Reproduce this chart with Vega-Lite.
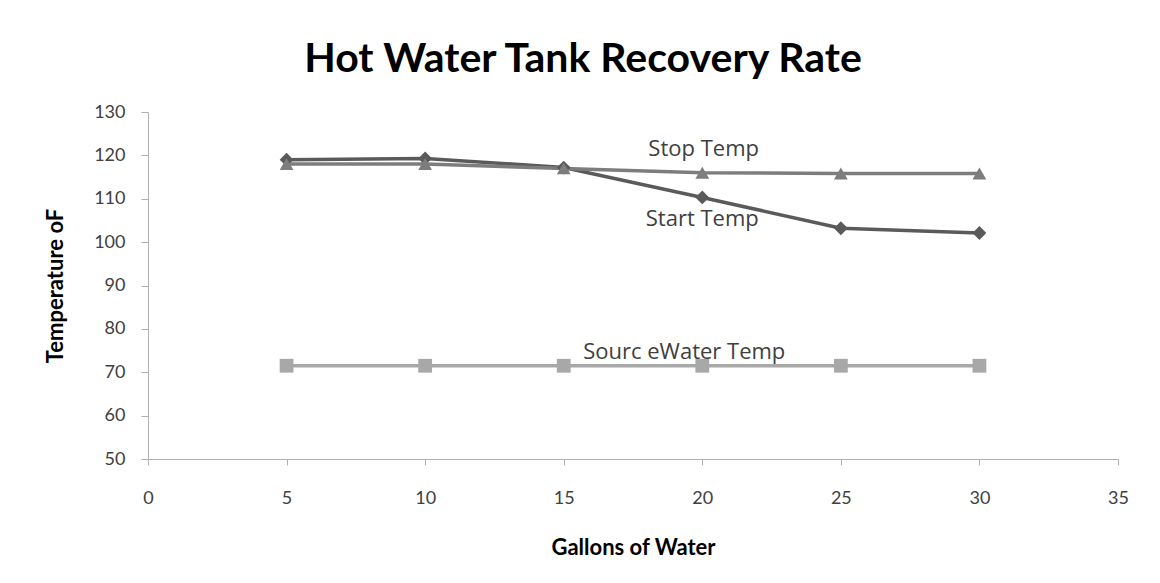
{
  "$schema": "https://vega.github.io/schema/vega-lite/v6.json",
  "width": 970,
  "height": 347,
  "autosize": "none",
  "padding": {"left": 148, "top": 112, "right": 42, "bottom": 124},
  "background": "white",
  "title": {
    "text": "Hot Water Tank Recovery Rate",
    "fontSize": 41,
    "font": "Lato",
    "fontWeight": "bold",
    "color": "#000000",
    "anchor": "middle",
    "offset": 22,
    "dx": -50
  },
  "config": {
    "view": {"stroke": null},
    "axis": {"grid": false, "labelFlush": false, "domainColor": "#b0b0b0", "tickColor": "#b0b0b0", "labelFont": "Lato", "labelColor": "#404040", "labelFontSize": 18, "titleFont": "Lato", "titleFontSize": 22, "titleFontWeight": "bold", "titleColor": "#000000"}
  },
  "datasets": {
    "series": [
      {"gallons": 5, "temp": 119, "series": "Start Temp"},
      {"gallons": 10, "temp": 119.3, "series": "Start Temp"},
      {"gallons": 15, "temp": 117.2, "series": "Start Temp"},
      {"gallons": 20, "temp": 110.3, "series": "Start Temp"},
      {"gallons": 25, "temp": 103.2, "series": "Start Temp"},
      {"gallons": 30, "temp": 102.1, "series": "Start Temp"},
      {"gallons": 5, "temp": 118, "series": "Stop Temp"},
      {"gallons": 10, "temp": 118, "series": "Stop Temp"},
      {"gallons": 15, "temp": 117, "series": "Stop Temp"},
      {"gallons": 20, "temp": 116, "series": "Stop Temp"},
      {"gallons": 25, "temp": 115.8, "series": "Stop Temp"},
      {"gallons": 30, "temp": 115.8, "series": "Stop Temp"},
      {"gallons": 5, "temp": 71.5, "series": "Sourc eWater Temp"},
      {"gallons": 10, "temp": 71.5, "series": "Sourc eWater Temp"},
      {"gallons": 15, "temp": 71.5, "series": "Sourc eWater Temp"},
      {"gallons": 20, "temp": 71.5, "series": "Sourc eWater Temp"},
      {"gallons": 25, "temp": 71.5, "series": "Sourc eWater Temp"},
      {"gallons": 30, "temp": 71.5, "series": "Sourc eWater Temp"}
    ],
    "labels": [
      {"gallons": 20.05, "temp": 121.5, "label": "Stop Temp"},
      {"gallons": 20.0, "temp": 105.3, "label": "Start Temp"},
      {"gallons": 19.35, "temp": 74.6, "label": "Sourc eWater Temp"}
    ]
  },
  "layer": [
    {
      "data": {"name": "series"},
      "mark": {"type": "line", "strokeWidth": 3.5, "point": false},
      "encoding": {
        "x": {"field": "gallons", "type": "quantitative", "scale": {"domain": [0, 35]}, "axis": {"values": [0,5,10,15,20,25,30,35], "title": "Gallons of Water", "tickSize": 6, "labelPadding": 24, "titlePadding": 30}},
        "y": {"field": "temp", "type": "quantitative", "scale": {"domain": [50, 130]}, "axis": {"values": [50,60,70,80,90,100,110,120,130], "title": "Temperature oF", "tickSize": 7, "labelPadding": 16, "titlePadding": 26}},
        "color": {"field": "series", "type": "nominal", "scale": {"domain": ["Start Temp", "Stop Temp", "Sourc eWater Temp"], "range": ["#5a5a5a", "#7d7d7d", "#a8a8a8"]}, "legend": null}
      }
    },
    {
      "data": {"name": "series"},
      "mark": {"type": "point", "filled": true, "opacity": 1, "size": 190},
      "encoding": {
        "x": {"field": "gallons", "type": "quantitative"},
        "y": {"field": "temp", "type": "quantitative"},
        "color": {"field": "series", "type": "nominal", "legend": null},
        "shape": {"field": "series", "type": "nominal", "scale": {"domain": ["Start Temp", "Stop Temp", "Sourc eWater Temp"], "range": ["diamond", "triangle-up", "square"]}, "legend": null}
      }
    },
    {
      "data": {"name": "labels"},
      "mark": {"type": "text", "font": "Open Sans", "fontSize": 22, "color": "#404040", "align": "center", "baseline": "middle"},
      "encoding": {
        "x": {"field": "gallons", "type": "quantitative"},
        "y": {"field": "temp", "type": "quantitative"},
        "text": {"field": "label"}
      }
    }
  ]
}
